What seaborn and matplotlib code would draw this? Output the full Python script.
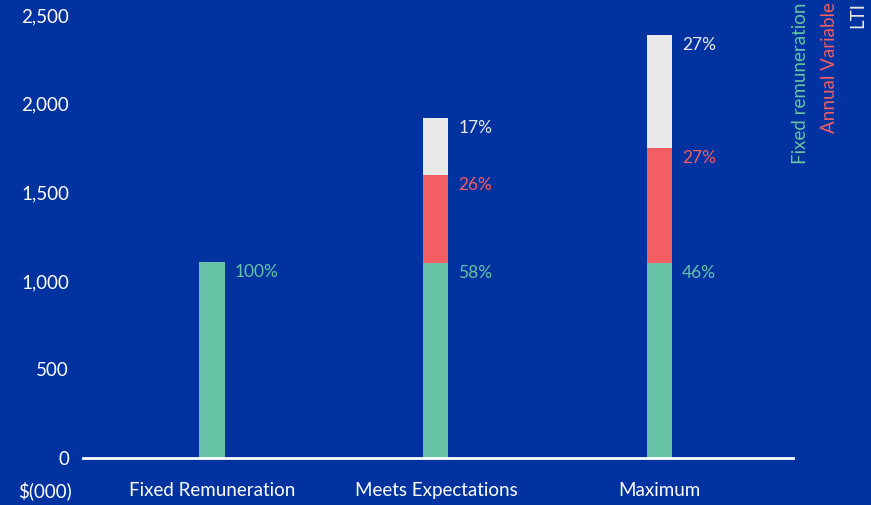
import pandas as pd
import numpy as np
import seaborn as sns
import matplotlib.pyplot as plt

# values in $(000)
scenarios = ['Fixed Remuneration', 'Meets Expectations', 'Maximum']
fixed = [1105, 1100, 1100]
annual_variable = [0, 497, 650]
lti = [0, 322, 637]
pct_fixed = ['100%', '58%', '46%']
pct_annual = ['', '26%', '27%']
pct_lti = ['', '17%', '27%']
yticks = [0, 500, 1000, 1500, 2000, 2500]

bg = '#0033a0'
green = '#66c3a5'
red = '#f25e62'
light = '#e9e9e9'

sns.set_theme(style='white')
plt.rcParams['font.family'] = ['Lato', 'DejaVu Sans']

df = pd.DataFrame({'scenario': scenarios, 'fixed': fixed,
                   'annual': annual_variable, 'lti': lti})
df['top_annual'] = df['fixed'] + df['annual']
df['top_lti'] = df['top_annual'] + df['lti']

fig = plt.figure(figsize=(8.71, 5.05), dpi=100, facecolor=bg)
ax = fig.add_axes([0.0953, 0.093, 0.815, 0.877])
ax.set_facecolor(bg)

# stacked bars drawn as overlapping cumulative totals
sns.barplot(data=df, x='scenario', y='top_lti', color=light, width=0.112,
            saturation=1, linewidth=0, ax=ax)
sns.barplot(data=df, x='scenario', y='top_annual', color=red, width=0.112,
            saturation=1, linewidth=0, ax=ax)
sns.barplot(data=df, x='scenario', y='fixed', color=green, width=0.112,
            saturation=1, linewidth=0, ax=ax)

ax.set_xlim(-0.576, 2.594)
ax.set_ylim(0, 2500)
ax.set_yticks(yticks)
ax.set_yticklabels([f'{v:,}' for v in yticks])
ax.set_xlabel('')
ax.set_ylabel('')
ax.tick_params(axis='both', length=0, colors='white', labelsize=13.5)
ax.tick_params(axis='y', pad=10)
ax.tick_params(axis='x', pad=17.5)
for s in ['top', 'right', 'left']:
    ax.spines[s].set_visible(False)
ax.spines['bottom'].set_color('white')
ax.spines['bottom'].set_linewidth(2)

# percentage labels beside each segment top
for i in range(len(scenarios)):
    xx = i + 0.1
    ax.annotate(pct_fixed[i], (xx, df['fixed'][i]), xytext=(0, -10),
                textcoords='offset pixels', color=green, fontsize=12.5,
                va='center', ha='left')
    if pct_annual[i]:
        ax.annotate(pct_annual[i], (xx, df['top_annual'][i]), xytext=(0, -10),
                    textcoords='offset pixels', color=red, fontsize=12.5,
                    va='center', ha='left')
    if pct_lti[i]:
        ax.annotate(pct_lti[i], (xx, df['top_lti'][i]), xytext=(0, -10),
                    textcoords='offset pixels', color=light, fontsize=12.5,
                    va='center', ha='left')

fig.text(45 / 871, 1 - 491 / 505, '$(000)', color='white', fontsize=13.5,
         ha='center', va='center')

# rotated legend on the right
fig.text(800 / 871, 1 - 2 / 505, 'Fixed remuneration', color=green,
         fontsize=13.5, rotation=90, ha='center', va='top')
fig.text(829 / 871, 1 - 2 / 505, 'Annual Variable', color=red,
         fontsize=13.5, rotation=90, ha='center', va='top')
fig.text(858 / 871, 1 - 2 / 505, 'LTI', color=light,
         fontsize=13.5, rotation=90, ha='center', va='top')

plt.savefig('out.png', dpi=100, facecolor=bg)
plt.close()
